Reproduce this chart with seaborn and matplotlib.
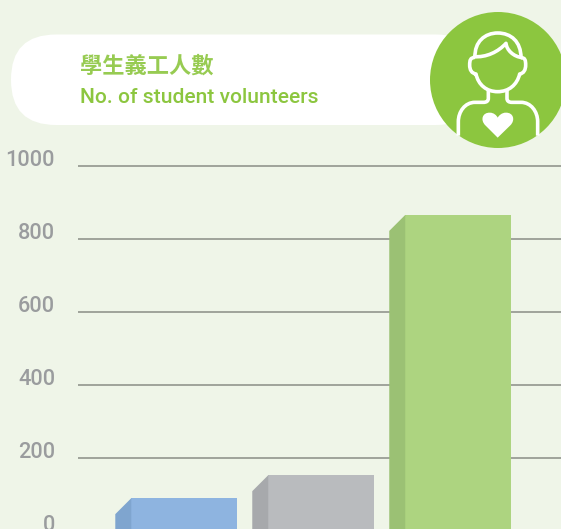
import matplotlib
matplotlib.use('Agg')
import matplotlib.pyplot as plt
import matplotlib.transforms as mtrans
import seaborn as sns
import pandas as pd
from matplotlib.path import Path
from matplotlib.patches import PathPatch, Circle, FancyBboxPatch, Polygon

# data
bars = ['first', 'second', 'third']
volunteers = [90, 153, 866]
y_ticks = [0, 200, 400, 600, 800, 1000]
title_zh = '學生義工人數'
title_en = 'No. of student volunteers'

front_colors = ['#8EB4E0', '#B9BBBE', '#ADD480']
side_colors = ['#7FA5CF', '#A7A9AC', '#9BC174']
bg = '#EFF5E8'
green = '#8CC63F'
W, H = 561, 529

sns.set_theme(style='white')
plt.rcParams['font.family'] = ['Roboto', 'Noto Sans CJK TC', 'DejaVu Sans']

fig = plt.figure(figsize=(W / 100, H / 100), dpi=100, facecolor=bg)

# chart axes, zero line sits just under the picture edge
top_px, zero_px, left_px = 166, 531, 78
ax = fig.add_axes([left_px / W, (H - zero_px) / H, (W - left_px) / W, (zero_px - top_px) / H])
ax.set_facecolor('none')

df = pd.DataFrame({'bar': bars, 'volunteers': volunteers})
sns.barplot(data=df, x='bar', y='volunteers', hue='bar', palette=front_colors,
            saturation=1, width=0.77, legend=False, ax=ax, zorder=3,
            linewidth=0, edgecolor='none')
ax.set_xlim(-0.774, 2.752)
ax.set_ylim(0, 1000)
ax.set_xlabel('')
ax.set_ylabel('')
ax.set_xticks([])
ax.set_yticks(y_ticks)
ax.set_yticklabels([str(v) for v in y_ticks], va='baseline', color='#9A9C9E',
                   fontsize=15.7, fontweight=500)
ax.tick_params(axis='y', length=0, pad=16.5)
ax.yaxis.grid(True, color='#9FA39A', lw=1.4, zorder=1)
for gl in ax.get_ygridlines():
    gl.set_clip_on(False)
    gl.set_solid_capstyle('butt')
ax.set_axisbelow(True)
sns.despine(ax=ax, left=True, bottom=True, top=True, right=True)

# slanted side face of each bar
depth_x = 16 / 137
depth_y = 16 / 73 * 200
for patch, c in zip(ax.patches, side_colors):
    x0 = patch.get_x()
    h = patch.get_height()
    ax.add_patch(Polygon([(x0, h), (x0 - depth_x, h - depth_y), (x0 - depth_x, 0), (x0, 0)],
                         closed=True, facecolor=c, edgecolor='none', zorder=3))

# header overlay in pixel coordinates
ov = fig.add_axes([0, 0, 1, 1])
ov.set_xlim(0, W)
ov.set_ylim(H, 0)
ov.axis('off')
ov.add_patch(FancyBboxPatch((11, 34.5), 470, 90.5, boxstyle='round,pad=0,rounding_size=45',
                            facecolor='white', edgecolor='none'))
ov.add_patch(Circle((498, 80), 68, facecolor=green, edgecolor='none', zorder=2))

ov.text(80, 66, title_zh, color=green, fontsize=16, fontweight='bold', va='center', ha='left',
        family=['Noto Sans CJK TC', 'DejaVu Sans'], alpha=0.9)
ov.text(80, 103, title_en, color=green, fontsize=15.1, fontweight=500, va='baseline', ha='left')


def z(x, y):
    # icon was measured on a 3x crop starting at (425, 5)
    return (425 + x / 3, 5 + y / 3)


def curve(points, codes, fill=False):
    p = Path([z(*q) for q in points], codes)
    ov.add_patch(PathPatch(p, facecolor='white' if fill else 'none', edgecolor='white',
                           lw=0 if fill else 2.6, zorder=3, capstyle='butt', joinstyle='round'))


M, C, L = Path.MOVETO, Path.CURVE4, Path.LINETO
curve([(150, 157), (148, 110), (180, 84), (218, 84), (258, 84), (288, 110), (288, 158)],
      [M, C, C, C, C, C, C])
curve([(145, 155), (185, 158), (220, 140), (243, 115), (245, 135), (265, 155), (292, 158)],
      [M, C, C, C, C, C, C])
curve([(150, 157), (136, 158), (134, 165), (134, 180), (134, 195), (140, 205), (153, 207),
       (160, 240), (185, 260), (218, 260), (251, 260), (276, 240), (284, 207),
       (296, 205), (302, 195), (302, 180), (302, 165), (300, 158), (288, 158)],
      [M] + [C] * 18)
curve([(190, 255), (190, 280), (190, 288), (185, 292), (175, 292), (150, 292),
       (120, 292), (100, 320), (100, 350), (100, 392)],
      [M, L, C, C, C, L, C, C, C, L])
curve([(246, 255), (246, 280), (246, 288), (251, 292), (261, 292), (288, 292),
       (318, 292), (338, 320), (338, 350), (338, 392)],
      [M, L, C, C, C, L, C, C, C, L])
curve([(218, 398), (181, 361), (165, 345), (172, 322), (195, 323), (206, 323), (215, 331), (218, 338),
       (222, 331), (231, 323), (242, 323), (265, 322), (272, 345), (256, 361), (218, 398)],
      [M, L, C, C, C, C, C, C, C, C, C, C, C, C, L], fill=True)

fig.savefig('out.png', dpi=100, facecolor=bg)
plt.close()
